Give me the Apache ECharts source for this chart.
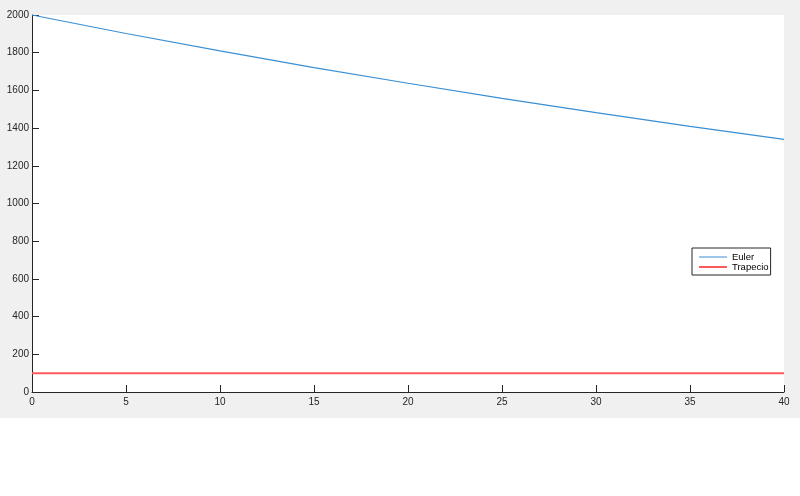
<!DOCTYPE html>
<html>
<head>
<meta charset="utf-8">
<script src="https://cdn.jsdelivr.net/npm/echarts@6/dist/echarts.min.js"></script>
<style>
  html, body { margin: 0; padding: 0; background: #fff; }
  #chart { width: 800px; height: 496px; }
</style>
</head>
<body>
<div id="chart"></div>
<script>
// values
const tValues = [0, 5, 10, 15, 20, 25, 30, 35, 40];
const eulerValues = [2000, 1902, 1810, 1721, 1638, 1558, 1482, 1409, 1340];
const trapTimes = [0, 40];
const trapValues = [100, 100];
const seriesNames = ['Euler', 'Trapecio'];

const axisColor = '#262626';
const font = 'Liberation Sans, Arial, sans-serif';

const chart = echarts.init(document.getElementById('chart'));

chart.setOption({
  backgroundColor: '#fff',
  animation: false,
  graphic: [{
    type: 'rect',
    z: -10,
    shape: { x: 0, y: 0, width: 800, height: 418 },
    style: { fill: '#f0f0f0' }
  }],
  grid: {
    left: 32, right: 16, top: 15, bottom: 104,
    show: true, backgroundColor: '#fff', borderWidth: 0
  },
  legend: {
    left: 692, top: 248,
    orient: 'vertical',
    itemWidth: 28, itemHeight: 9, itemGap: 0,
    padding: [4, 2, 3, 7],
    backgroundColor: '#fff',
    borderColor: axisColor, borderWidth: 1, borderRadius: 0,
    textStyle: { fontFamily: font, fontSize: 9.5, color: '#000' },
    data: [
      { name: seriesNames[0], icon: 'path://M0,0 L28,0 L28,1 L0,1 Z' },
      { name: seriesNames[1], icon: 'path://M0,0 L28,0 L28,2 L0,2 Z' }
    ]
  },
  xAxis: {
    type: 'value', min: 0, max: 40, interval: 5,
    axisLine: { show: true, lineStyle: { color: axisColor } },
    axisTick: { show: true, inside: true, length: 7, lineStyle: { color: axisColor } },
    axisLabel: { fontFamily: font, fontSize: 10, color: axisColor, margin: 5 },
    splitLine: { show: false }
  },
  yAxis: {
    type: 'value', min: 0, max: 2000, interval: 200,
    axisLine: { show: true, lineStyle: { color: axisColor } },
    axisTick: { show: true, inside: true, length: 7, lineStyle: { color: axisColor } },
    axisLabel: { fontFamily: font, fontSize: 10, color: axisColor, margin: 3, formatter: v => String(v) },
    splitLine: { show: false }
  },
  series: [
    {
      name: seriesNames[0], type: 'line', showSymbol: false,
      data: tValues.map((t, i) => [t, eulerValues[i]]),
      itemStyle: { color: '#3a8fd4' },
      lineStyle: { color: '#3a8fd4', width: 1.2 }
    },
    {
      name: seriesNames[1], type: 'line', showSymbol: false,
      data: trapTimes.map((t, i) => [t, trapValues[i]]),
      itemStyle: { color: '#ff5a5a' },
      lineStyle: { color: '#ff5a5a', width: 2 }
    }
  ]
});
</script>
</body>
</html>
